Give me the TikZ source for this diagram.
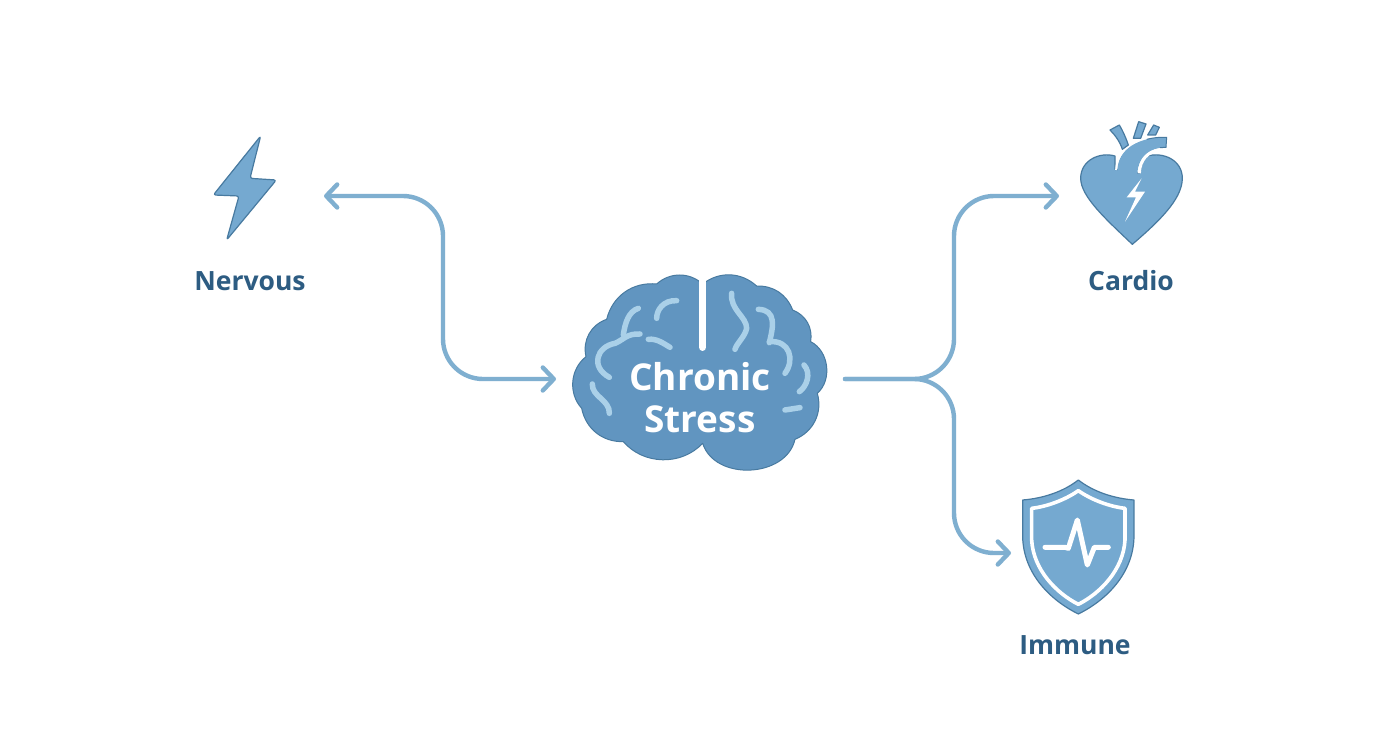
\documentclass[tikz,border=0pt]{standalone}
\usepackage{fontspec}
\setmainfont{Open Sans}
\usetikzlibrary{arrows.meta}
\definecolor{linkblue}{RGB}{127,175,208}
\definecolor{iconblue}{RGB}{117,169,208}
\definecolor{iconedge}{RGB}{72,122,160}
\definecolor{brainblue}{RGB}{97,149,192}
\definecolor{foldblue}{RGB}{170,208,232}
\definecolor{labelblue}{RGB}{45,92,130}
\tikzset{
  link/.style={line width=4.4pt,linkblue,line cap=round,rounded corners=40pt},
  barb/.tip={Straight Barb[length=11pt,width=23pt,line width=4.4pt,round]},
  icon/.style={fill=iconblue,draw=iconedge,line width=1.2pt,line join=round},
  fold/.style={foldblue,line width=5.5pt,line cap=round},
  label/.style={labelblue,font=\fontsize{26.5}{27}\selectfont\bfseries},
  zoomed/.style={x=0.3333pt,y=-0.3333pt}
}
\begin{document}
\begin{tikzpicture}[x=1pt,y=-1pt]
\useasboundingbox (0,0) rectangle (1392,752);
\fill [white] (0,0) rectangle (1392,752);
% brain
\begin{scope}[shift={(560,260)},zoomed]
\fill [brainblue,draw=iconedge,line width=1pt,line join=round]
  (428,72) to[bend left=40] (590,78) to[bend left=35] (698,150) to[bend left=39] (752,245)
  to[bend left=56] (772,400) to[bend left=42] (705,538) to[bend left=75,looseness=1.1] (428,550)
  to[bend left=48] (190,545) to[bend left=40] (65,445) to[bend left=47] (78,290)
  to[bend left=42] (140,178) to[bend left=41] (290,72) to[bend left=42] (428,72) -- cycle;
\draw [white,line width=7.3pt,line cap=round] (428,45) -- (428,262);
\draw [fold] (350,122) .. controls (310,120) and (290,150) .. (290,175);
\draw [fold] (235,145) .. controls (205,155) and (195,190) .. (190,225);
\draw [fold] (240,222) .. controls (200,220) and (190,240) .. (165,250) .. controls (110,260) and (90,320) .. (148,352);
\draw [fold] (265,238) .. controls (290,235) and (310,250) .. (330,262);
\draw [fold] (97,372) .. controls (95,410) and (150,420) .. (148,460);
\draw [fold] (515,100) .. controls (510,150) and (560,170) .. (560,205) .. controls (555,230) and (530,250) .. (525,268);
\draw [fold] (595,148) .. controls (650,150) and (640,200) .. (628,248);
\draw [fold] (628,245) .. controls (690,240) and (705,300) .. (675,340);
\draw [fold] (732,315) .. controls (755,340) and (740,380) .. (718,395);
\draw [fold] (675,450) -- (720,443);
\end{scope}
\node (stress) [white,align=center,font=\fontsize{37}{42}\selectfont\bfseries] at (700,398) {Chronic\\Stress};
% bolt
\begin{scope}[shift={(190,125)},zoomed]
\draw [icon,rounded corners=2.5pt] (212,33) -- (180,160) -- (259,165) -- (110,345) -- (147,213) -- (70,210) -- cycle;
\end{scope}
\node (nervous) [label] at (250,281) {Nervous};
% heart
\begin{scope}[shift={(1060,110)},zoomed]
\draw [icon] (217,403) .. controls (140,330) and (62,260) .. (62,205) .. controls (62,150) and (120,125) .. (165,138) -- (165,178) -- (240,190)
  .. controls (245,160) and (250,140) .. (262,138) .. controls (310,125) and (367,150) .. (367,205) .. controls (367,270) and (290,340) .. (217,403) -- cycle;
\fill [iconblue] (172,178) .. controls (175,115) and (240,80) .. (320,82) -- (318,112) .. controls (270,112) and (235,140) .. (232,190) -- (240,300) -- (180,300) -- cycle;
\draw [white,line width=1.8pt] (168,180) .. controls (172,115) and (235,74) .. (300,74);
\draw [white,line width=3pt] (238,190) .. controls (240,150) and (262,124) .. (300,120);
\draw [iconedge,line width=1pt] (260,88) .. controls (280,83) and (300,81) .. (320,82) -- (318,112) -- (300,113);
\fill [white] (245,205) -- (200,262) -- (228,262) -- (195,335) -- (255,245) -- (225,245) -- cycle;
\draw [icon] (150,60) -- (178,45) .. controls (190,65) and (200,90) .. (205,105) -- (187,118) .. controls (180,95) and (165,75) .. (150,60) -- cycle;
\draw [icon] (236,35) -- (258,42) -- (242,85) -- (220,85) -- cycle;
\draw [icon] (281,45) -- (298,52) -- (287,75) -- (263,75) -- cycle;
\end{scope}
\node (cardio) [label] at (1131,281) {Cardio};
% shield
\begin{scope}[shift={(1000,470)},zoomed]
\draw [icon] (235,30) .. controls (190,65) and (130,85) .. (68,90) -- (68,200) .. controls (70,310) and (150,390) .. (235,432)
  .. controls (320,390) and (400,310) .. (402,200) -- (402,90) .. controls (340,85) and (280,65) .. (235,30) -- cycle;
\draw [white,line width=3.6pt,line join=round] (235,62) .. controls (195,90) and (140,110) .. (95,115) -- (95,210) .. controls (100,300) and (170,370) .. (235,403)
  .. controls (300,370) and (370,300) .. (375,210) -- (375,115) .. controls (330,110) and (275,90) .. (235,62) -- cycle;
\draw [white,line width=5pt,line cap=round,line join=round] (135,232) -- (195,232) -- (205,235) -- (232,150) -- (262,285) -- (283,232) -- (325,232);
\end{scope}
\node (immune) [label] at (1075,645) {Immune};
% connectors
\coordinate (stressleft) at (556,379);
\coordinate (stressright) at (845,379);
\coordinate (nervousin) at (324,196);
\coordinate (cardioin) at (1059,196);
\coordinate (immunein) at (1011,553);
\draw [link,barb-barb] (nervousin) -- (443,196) -- (443,379) -- (stressleft);
\draw [link,-barb] (stressright) -- (954,379) -- (954,196) -- (cardioin);
\draw [link,-barb] (stressright) -- (954,379) -- (954,553) -- (immunein);
\end{tikzpicture}
\end{document}
